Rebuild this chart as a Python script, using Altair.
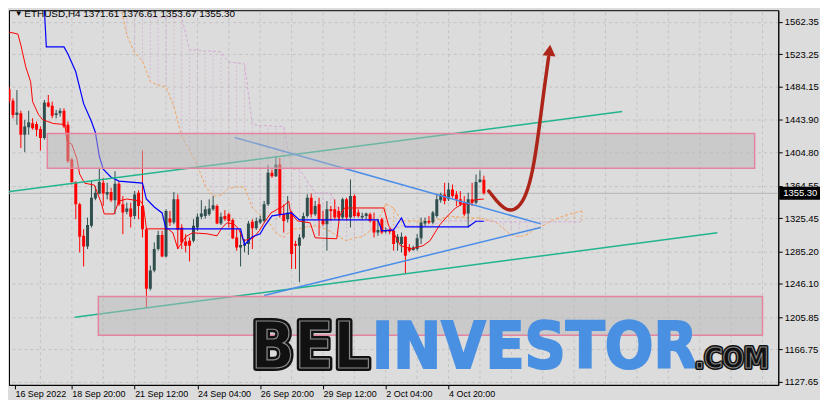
import altair as alt
import pandas as pd

# ---------------- data ----------------
opens = [1481, 1467, 1450, 1452, 1426, 1435, 1440, 1439, 1433, 1422,
         1465, 1461, 1450, 1452, 1455, 1438, 1396, 1369, 1342, 1304,
         1291, 1316, 1349, 1355, 1368, 1354, 1357, 1347, 1367, 1342,
         1333, 1337, 1328, 1356, 1340, 1312, 1240, 1262, 1288, 1305,
         1279, 1325, 1320, 1348, 1314, 1297, 1298, 1298, 1314, 1327,
         1328, 1330, 1336, 1340, 1319, 1328, 1330, 1323, 1302, 1290,
         1292, 1294, 1321, 1313, 1320, 1322, 1342, 1380, 1376, 1390,
         1330, 1324, 1332, 1294, 1292, 1302, 1328, 1350, 1330, 1342,
         1324, 1318, 1336, 1336, 1334, 1326, 1348, 1326, 1352, 1332,
         1326, 1328, 1330, 1322, 1308, 1324, 1309, 1311, 1310, 1296,
         1294, 1303, 1290, 1287, 1288, 1301, 1319, 1322, 1320, 1328,
         1347, 1354, 1348, 1360, 1354, 1348, 1344, 1331, 1348, 1344,
         1369, 1371.61]
highs = [1484, 1470, 1480, 1455, 1444, 1455, 1446, 1442, 1436, 1468,
         1474, 1466, 1456, 1458, 1458, 1442, 1398, 1370, 1344, 1312,
         1326, 1370, 1364, 1386, 1374, 1368, 1362, 1382, 1370, 1352,
         1344, 1344, 1358, 1359, 1407, 1314, 1268, 1296, 1310, 1310,
         1336, 1334, 1357, 1354, 1318, 1306, 1302, 1324, 1331, 1347,
         1340, 1348, 1352, 1342, 1332, 1335, 1332, 1325, 1312, 1310,
         1300, 1322, 1324, 1326, 1328, 1346, 1389, 1384, 1400, 1398,
         1342, 1352, 1334, 1298, 1306, 1332, 1354, 1355, 1346, 1350,
         1334, 1346, 1340, 1348, 1339, 1350, 1350, 1372, 1354, 1336,
         1332, 1332, 1332, 1332, 1324, 1326, 1314, 1313, 1312, 1306,
         1308, 1304, 1294, 1292, 1306, 1326, 1326, 1328, 1334, 1354,
         1356, 1368, 1368, 1366, 1358, 1358, 1352, 1356, 1368, 1378,
         1383, 1376.61]
lows = [1464, 1446, 1438, 1410, 1405, 1426, 1432, 1424, 1407, 1420,
        1459, 1446, 1446, 1448, 1434, 1392, 1366, 1324, 1284, 1267,
        1288, 1314, 1347, 1354, 1340, 1348, 1345, 1330, 1340, 1306,
        1330, 1314, 1324, 1324, 1302, 1218, 1238, 1260, 1286, 1278,
        1278, 1316, 1318, 1288, 1288, 1284, 1273, 1296, 1310, 1324,
        1325, 1328, 1334, 1318, 1317, 1322, 1314, 1300, 1286, 1267,
        1284, 1281, 1288, 1311, 1318, 1320, 1340, 1374, 1375, 1326,
        1308, 1320, 1264, 1264, 1248, 1300, 1326, 1326, 1328, 1304,
        1316, 1286, 1322, 1324, 1322, 1324, 1322, 1314, 1326, 1326,
        1324, 1324, 1320, 1302, 1304, 1306, 1307, 1306, 1286, 1286,
        1284, 1258, 1284, 1286, 1286, 1294, 1316, 1318, 1318, 1326,
        1344, 1342, 1346, 1350, 1340, 1340, 1328, 1314, 1340, 1342,
        1368, 1353.67]
closes = [1467, 1450, 1453, 1426, 1436, 1441, 1434, 1432, 1422, 1465,
          1460, 1449, 1452, 1455, 1436, 1394, 1369, 1342, 1303, 1291,
          1317, 1350, 1356, 1369, 1355, 1357, 1347, 1367, 1342, 1332,
          1337, 1327, 1354, 1340, 1312, 1240, 1262, 1288, 1305, 1279,
          1334, 1320, 1348, 1311, 1296, 1292, 1292, 1316, 1327, 1331,
          1336, 1337, 1341, 1319, 1327, 1324, 1322, 1301, 1290, 1293,
          1294, 1319, 1313, 1322, 1324, 1342, 1380, 1376, 1390, 1330,
          1322, 1332, 1282, 1292, 1302, 1328, 1350, 1330, 1340, 1324,
          1318, 1336, 1334, 1326, 1326, 1348, 1326, 1352, 1328, 1328,
          1328, 1331, 1322, 1308, 1311, 1308, 1311, 1309, 1294, 1303,
          1303, 1280, 1286, 1290, 1301, 1320, 1322, 1320, 1332, 1348,
          1354, 1346, 1360, 1352, 1348, 1342, 1330, 1348, 1344, 1369,
          1372, 1355.30]

# Ichimoku lines (bar position, price)
tenkan_i = [0, 2.25, 3, 4.25, 5.5, 6, 7.5, 8.5, 11.25, 14.25,
            14.75, 16, 17.25, 18, 19.25, 21.75, 23.5, 24.25, 26.75, 28,
            30, 33.5, 34.25, 35, 40.5, 41.75, 43, 45, 46.75, 50.5,
            53, 54.25, 55.5, 57.25, 58.5, 59.75, 62.25, 63.75, 65, 66.75,
            68.5, 70, 71.25, 71.75, 73.5, 76.75, 78, 83.5, 84.25, 85.5,
            95.5, 96.75, 98, 99.75, 102.5, 105.5, 107.25, 108.5, 109.75, 111.75,
            113.75, 115.5, 117.5, 118.5, 121]
tenkan_v = [1550, 1547.6, 1534.4, 1508, 1490, 1466, 1450.4, 1444.4, 1439.6, 1438.4,
            1418, 1414.4, 1397.6, 1378.4, 1367.6, 1365.2, 1343.6, 1330.4, 1330.4, 1346,
            1348.4, 1346, 1340, 1312.4, 1312.4, 1307.6, 1288.4, 1302.8, 1307.6, 1306.4,
            1304, 1313.6, 1319.6, 1318.4, 1312.4, 1298, 1301.6, 1310, 1319.6, 1331.6,
            1336.4, 1340, 1346, 1331.6, 1322, 1319.6, 1301.6, 1300.4, 1328, 1337.6,
            1337.6, 1316, 1307.6, 1292, 1288.4, 1292, 1298, 1307.6, 1317.2, 1328,
            1337.6, 1342.4, 1342.4, 1347.2, 1348.4]
kijun_i = [0, 8.75, 9.5, 14, 15, 17, 19, 21, 22, 23,
           24, 26, 28, 34, 35, 37, 39, 40, 59, 60,
           62, 64, 65, 67, 72, 74, 94, 95, 98, 100,
           101, 117, 119, 121]
kijun_v = [1600, 1600, 1532, 1532, 1523.6, 1502, 1463.6, 1442, 1428.8, 1400,
           1384.4, 1374.8, 1370, 1367.6, 1348.4, 1338.8, 1331.6, 1312.4, 1312.4, 1293.2,
           1302.8, 1306.4, 1314.8, 1328, 1331.6, 1323.2, 1323.2, 1310, 1311.2, 1325.6,
           1314.8, 1314.8, 1321.6, 1321.6]
cloud_i = [28, 30, 32, 34, 36, 38, 40, 42, 44, 46,
           48, 50, 52, 54, 56, 58, 60, 62, 64, 66,
           68, 70, 72, 74, 76, 78, 80, 82, 84, 86,
           88, 90, 92, 94, 96, 98, 100, 102, 104, 106,
           108, 110, 112, 114, 116, 118, 120, 122, 124, 126,
           128, 130, 132, 134, 136, 138, 140, 142, 144, 146]
span_a = [1592, 1546.4, 1524.8, 1515.2, 1490, 1485.8, 1484, 1460, 1424, 1407,
          1389, 1364, 1352, 1353, 1361.6, 1362.8, 1362.8, 1337.6, 1329, 1322,
          1307.6, 1301.6, 1312.4, 1312.4, 1314.8, 1316, 1313.6, 1308.8, 1302.8, 1298,
          1301.6, 1302.8, 1310, 1322, 1342.4, 1337.6, 1322, 1322, 1322, 1322,
          1322, 1324.4, 1328, 1326.8, 1326.8, 1325.6, 1325.6, 1323.2, 1320.8, 1312.4,
          1305.2, 1302.8, 1305.2, 1312.4, 1316, 1322, 1325.6, 1329.2, 1331.6, 1334]
span_b = [1604, 1588, 1578.8, 1569.2, 1568, 1568, 1568, 1568, 1568, 1528.4,
          1528.4, 1527, 1527, 1526, 1514, 1512.8, 1511.6, 1438.4, 1437, 1437,
          1436, 1436, 1384.4, 1384.4, 1370, 1355.6, 1355.6, 1355.6, 1334, 1328,
          1328, 1328, 1328, 1319.6, 1312.4, 1312.4, 1316, 1316, 1316, 1316,
          1316, 1322, 1322, 1322, 1322, 1322, 1322, 1322, 1320.8, 1320.8,
          1320.8, 1320.8, 1320.8, 1320.8, 1320.8, 1320.8, 1320.8, 1320.8, 1320.8, 1320.8]

# drawn trend lines: (start bar, start price, end bar, end price)
trend_names = ["green_up", "green_low", "blue_down", "blue_up"]
trend_i0 = [-0.75, 16.75, 57.5, 65]
trend_v0 = [1356.8, 1205.6, 1422.8, 1232]
trend_i1 = [156.25, 180.5, 135.5, 135.5]
trend_v1 = [1454, 1307.6, 1318.4, 1314]
trend_colors = ["#22b48e", "#22b48e", "#4a8de8", "#4a8de8"]

# zones
zone_i0 = [9.75, 22.75]
zone_i1 = [190, 192]
zone_top = [1427.6, 1230.8]
zone_bot = [1385.6, 1184]

# forecast arrow
arrow_i = [122.25, 124.25, 126, 127.75, 129.75, 131.75, 133.5, 135, 136.25, 137.5]
arrow_v = [1358, 1346, 1337.6, 1334, 1337.6, 1352, 1382, 1430, 1478, 1520]
arrow_head_i = [137.75]
arrow_head_v = [1528]

last_price = 1355.30
y_ticks = [1127.65, 1166.75, 1205.85, 1246.10, 1285.20, 1325.45,
           1364.55, 1404.80, 1443.90, 1484.15, 1523.25, 1562.35]
x_ticks = [1.5, 16, 32, 48, 64, 80, 96, 112]
x_labels = ["16 Sep 2022", "18 Sep 20:00", "21 Sep 12:00", "24 Sep 04:00",
            "26 Sep 20:00", "29 Sep 12:00", "2 Oct 04:00", "4 Oct 20:00"]
grid_i = list(range(8, 193, 8))

# ---------------- chart ----------------
X_DOM = [1.25, 194.75]
Y_DOM = [1124.0, 1576.4]
FONT = "Liberation Sans"
WM_FONT = "'Liberation Sans Narrow', 'DejaVu Sans Condensed', 'Roboto Condensed', 'Liberation Sans', sans-serif"
BG = "#dcdcdc"

xs = alt.Scale(domain=X_DOM, nice=False, zero=False)
ys = alt.Scale(domain=Y_DOM, nice=False, zero=False)

label_expr = "''"
for v, lab in reversed(list(zip(x_ticks, x_labels))):
    label_expr = f"datum.value == {v} ? '{lab}' : ({label_expr})"

x_axis = alt.Axis(values=x_ticks, labelExpr=label_expr, labelAlign="left",
                  labelFont=FONT, labelFontSize=9, labelColor="black",
                  tickColor="black", tickSize=4, domainColor="black",
                  labelPadding=1, labelOverlap=False, labelFlush=False, grid=False)
y_axis = alt.Axis(orient="right", values=y_ticks, format=".2f",
                  labelFont=FONT, labelFontSize=9.5, labelColor="black",
                  tickColor="black", tickSize=4, domainColor="black",
                  labelPadding=2, labelOverlap=False, labelFlush=False,
                  grid=True, gridColor="#c4c4c4", gridDash=[3, 3])


def X(f):
    return alt.X(f, type="quantitative", scale=xs, axis=x_axis, title=None)


def Y(f):
    return alt.Y(f, type="quantitative", scale=ys, axis=y_axis, title=None)


n = len(opens)
candles = pd.DataFrame({
    "i": list(range(n)), "open": opens, "high": highs, "low": lows, "close": closes,
    "up": [c >= o for o, c in zip(opens, closes)],
})
cdir = alt.condition("datum.up", alt.value("#2f4f4f"), alt.value("#ff0000"))

grid = alt.Chart(pd.DataFrame({"i": grid_i, "lo": [Y_DOM[0]] * len(grid_i),
                               "hi": [Y_DOM[1]] * len(grid_i)})).mark_rule(
    color="#c4c4c4", strokeDash=[3, 3], strokeWidth=1
).encode(x=X("i"), y=Y("lo"), y2="hi")

price_line = alt.Chart(pd.DataFrame({"v": [last_price]})).mark_rule(
    color="#b4b4b4", strokeWidth=1).encode(y=Y("v"))

cloud = pd.DataFrame({"i": cloud_i, "a": span_a, "b": span_b})
cloud["bull"] = [a >= b for a, b in zip(span_a, span_b)]
hatch = alt.Chart(cloud).mark_rule(strokeDash=[2, 2], strokeWidth=1, opacity=0.75, clip=True).encode(
    x=X("i"), y=Y("a"), y2="b",
    color=alt.condition("datum.bull", alt.value("#f4a460"), alt.value("#d4b0d4")))
line_a = alt.Chart(cloud).mark_line(color="#f4a460", strokeDash=[3, 2], strokeWidth=1, clip=True).encode(
    x=X("i"), y=Y("a"))
line_b = alt.Chart(cloud).mark_line(color="#d6a8d6", strokeDash=[3, 2], strokeWidth=1, clip=True).encode(
    x=X("i"), y=Y("b"))

wicks = alt.Chart(candles).mark_rule(strokeWidth=1, clip=True).encode(
    x=X("i"), y=Y("low"), y2="high", color=cdir)
bodies = alt.Chart(candles).mark_bar(size=3, clip=True).encode(
    x=X("i"), y=Y("open"), y2="close", color=cdir)

tenkan = alt.Chart(pd.DataFrame({"i": tenkan_i, "v": tenkan_v})).mark_line(
    color="#ff0000", strokeWidth=1, clip=True).encode(x=X("i"), y=Y("v"))
kijun = alt.Chart(pd.DataFrame({"i": kijun_i, "v": kijun_v})).mark_line(
    color="#0000ff", strokeWidth=1.2, clip=True).encode(x=X("i"), y=Y("v"))

trend_layers = []
for name, a0, v0, a1, v1, col in zip(trend_names, trend_i0, trend_v0, trend_i1, trend_v1, trend_colors):
    df = pd.DataFrame({"i": [a0, a1], "v": [v0, v1]})
    trend_layers.append(alt.Chart(df).mark_line(strokeWidth=1.5, clip=True, color=col).encode(
        x=X("i"), y=Y("v")))

zones = alt.Chart(pd.DataFrame({"i0": zone_i0, "i1": zone_i1, "top": zone_top, "bot": zone_bot})).mark_rect(
    fill="#b8b8b8", fillOpacity=0.5, stroke="#e4849f", strokeWidth=1.5, clip=True
).encode(x=X("i0"), x2="i1", y=Y("top"), y2="bot")

wm_y = 1144.4
WM = 64


def wm_text(i, t, size, align, **kw):
    return alt.Chart(pd.DataFrame({"i": [i], "v": [wm_y], "t": [t]})).mark_text(
        font=WM_FONT, fontWeight="bold", fontSize=size, align=align, baseline="alphabetic", **kw
    ).encode(x=X("i"), y=Y("v"), text="t:N")


bel_shadow = wm_text(92.0, "BEL", WM, "right", fill="#111111", stroke="#111111", strokeWidth=6,
                     strokeJoin="round")
bel = wm_text(92.0, "BEL", WM, "right", fill="#111111", stroke="#8a8a8a", strokeWidth=1.2)
investor = wm_text(92.5, "INVESTOR", WM, "left", fill="#4a90e2", stroke="#4a90e2", strokeWidth=2)
com_shadow = wm_text(193.6, ".COM", 28, "right", fill="#111111", stroke="#111111", strokeWidth=4,
                     strokeJoin="round")
com = wm_text(193.6, ".COM", 28, "right", fill="#111111", stroke="#8a8a8a", strokeWidth=1)

arrow = alt.Chart(pd.DataFrame({"i": arrow_i, "v": arrow_v})).mark_line(
    color="#ad2418", strokeWidth=3.5, interpolate="basis", strokeCap="round").encode(x=X("i"), y=Y("v"))
arrow_head = alt.Chart(pd.DataFrame({"i": arrow_head_i, "v": arrow_head_v})).mark_point(
    shape="triangle-up", size=170, filled=True, color="#ad2418", opacity=1, angle=6).encode(
    x=X("i"), y=Y("v"))

tri = alt.Chart(pd.DataFrame({"i": [1.45], "v": [1569.5], "t": ["\u25BC"]})).mark_text(
    font=FONT, fontSize=8, align="left", baseline="alphabetic", color="black").encode(
    x=X("i"), y=Y("v"), text="t:N")
title = alt.Chart(pd.DataFrame({"i": [3.9], "v": [1568], "t": ["ETHUSD,H4  1371.61 1376.61 1353.67 1355.30"]})).mark_text(
    font=FONT, fontSize=10, align="left", baseline="alphabetic", color="black").encode(
    x=X("i"), y=Y("v"), text="t:N")

price_box = alt.Chart(pd.DataFrame({"top": [last_price + 7.8], "bot": [last_price - 7.8]})).mark_rect(
    color="black").encode(x=alt.value(775), x2=alt.value(816), y=Y("top"), y2="bot")
price_txt = alt.Chart(pd.DataFrame({"v": [last_price], "t": ["1355.30"]})).mark_text(
    font=FONT, fontSize=9.5, align="left", baseline="middle", color="white").encode(
    x=alt.value(779), y=Y("v"), text="t:N")

chart = alt.layer(
    grid, price_line, hatch, line_a, line_b, wicks, bodies, tenkan, kijun, *trend_layers, zones,
    bel_shadow, bel, investor, com_shadow, com, arrow, arrow_head, tri, title, price_box, price_txt
).properties(width=774, height=377, padding=0, background=BG).configure_view(
    fill=BG, stroke="black", strokeWidth=1
)

chart.save("out.html", embed_options={"renderer": "svg", "actions": False})
